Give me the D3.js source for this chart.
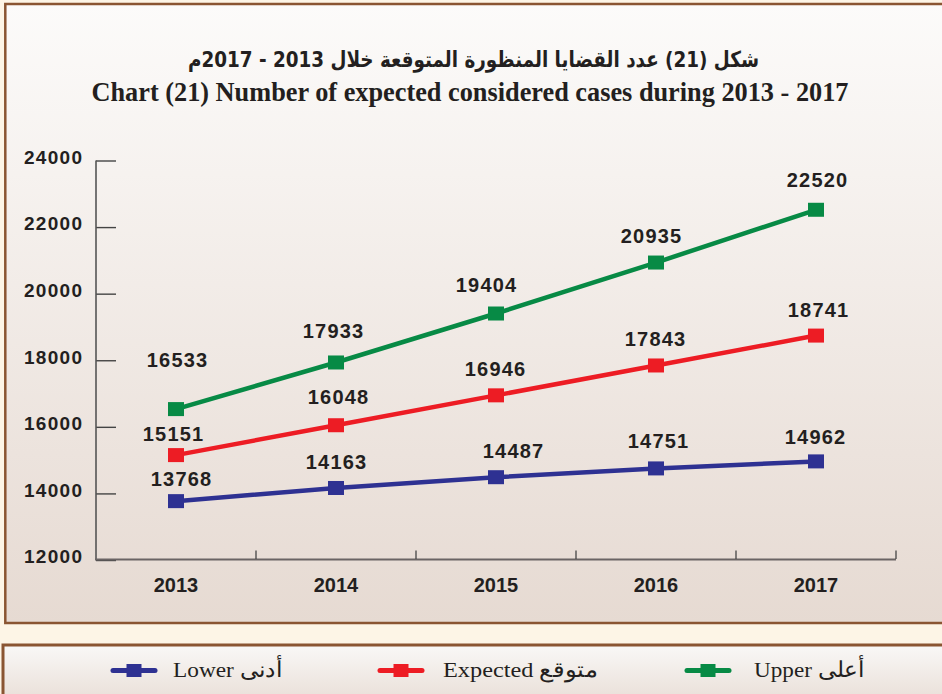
<!DOCTYPE html>
<html>
<head>
<meta charset="utf-8">
<script src="https://cdn.jsdelivr.net/npm/d3@7/dist/d3.min.js"></script>
<style>
  html, body { margin: 0; padding: 0; background: #fdf5e6; }
  svg { display: block; }
</style>
</head>
<body>
<svg id="chart" width="942" height="694"></svg>
<script>
// ---- data ----
const years = ["2013", "2014", "2015", "2016", "2017"];
const lowerValues = [13768, 14163, 14487, 14751, 14962];
const expectedValues = [15151, 16048, 16946, 17843, 18741];
const upperValues = [16533, 17933, 19404, 20935, 22520];
const yTickValues = [12000, 14000, 16000, 18000, 20000, 22000, 24000];
const titleArabic = "شكل (21) عدد القضايا المنظورة المتوقعة خلال 2013 - 2017م";
const titleEnglish = "Chart (21) Number of expected considered cases during 2013 - 2017";
const seriesNames = ["Lower أدنى", "Expected  متوقع", "Upper أعلى"];

// ---- layout (label nudges, px) ----
const labelLift = { lower: [15, 19, 19, 20, 17], expected: [14, 21, 19, 19, 19], upper: [42, 24, 22, 20, 23] };
const labelShift = { lower: [5, 0, 17, 2, -1], expected: [-3, 2, -1, -1, 2], upper: [1, -3, -10, -5, 1] };

const series = [
  { key: "lower", name: seriesNames[0], values: lowerValues, color: "#2e3192" },
  { key: "expected", name: seriesNames[1], values: expectedValues, color: "#ed1c24" },
  { key: "upper", name: seriesNames[2], values: upperValues, color: "#078a45" }
];

const svg = d3.select("#chart");
const defs = svg.append("defs");
const g1 = defs.append("linearGradient").attr("id", "panelGrad").attr("x1", 0).attr("y1", 0).attr("x2", 0).attr("y2", 1);
g1.append("stop").attr("offset", "0%").attr("stop-color", "#fcfbfa");
g1.append("stop").attr("offset", "100%").attr("stop-color", "#e6dad2");
const g2 = defs.append("linearGradient").attr("id", "legendGrad").attr("x1", 0).attr("y1", 0).attr("x2", 0).attr("y2", 1);
g2.append("stop").attr("offset", "0%").attr("stop-color", "#f9f8f7");
g2.append("stop").attr("offset", "100%").attr("stop-color", "#e8ddd5");

// background
svg.append("rect").attr("x", 0).attr("y", 0).attr("width", 942).attr("height", 694).attr("fill", "#fdf5e6");
// main panel
svg.append("rect").attr("x", 5.3).attr("y", 4).attr("width", 950).attr("height", 619)
  .attr("fill", "url(#panelGrad)").attr("stroke", "#8a5532").attr("stroke-width", 2.5);
// legend panel
svg.append("rect").attr("x", 3).attr("y", 645).attr("width", 950).attr("height", 60)
  .attr("fill", "url(#legendGrad)").attr("stroke", "#8a5532").attr("stroke-width", 3);

// titles
svg.append("text").attr("x", 473.5).attr("y", 67).attr("text-anchor", "middle")
  .attr("direction", "rtl")
  .attr("font-family", "'DejaVu Sans', sans-serif").attr("font-weight", "bold").attr("font-size", 22)
  .attr("fill", "#231f20")
  .attr("textLength", 571).attr("lengthAdjust", "spacingAndGlyphs")
  .text(titleArabic);
svg.append("text").attr("x", 470).attr("y", 100.5).attr("text-anchor", "middle")
  .attr("font-family", "'Liberation Serif', 'Times New Roman', serif").attr("font-weight", "bold").attr("font-size", 27.5)
  .attr("fill", "#231f20")
  .attr("textLength", 757).attr("lengthAdjust", "spacingAndGlyphs")
  .text(titleEnglish);

// scales
const x = d3.scaleBand().domain(years).range([96, 896]).padding(0);
const cx = d => x(d) + x.bandwidth() / 2;
const y = d3.scaleLinear().domain([12000, 24000]).range([560, 160.5]);

// y axis
const yAxis = d3.axisLeft(y).tickValues(yTickValues).tickSize(0).tickFormat(d3.format("d"));
const gy = svg.append("g").attr("transform", "translate(96,0)").call(yAxis);
gy.select(".domain").remove();
gy.selectAll(".tick text")
  .attr("x", -12.7).attr("dy", "0.15em")
  .attr("font-family", "'Liberation Sans', Arial, sans-serif").attr("font-weight", "bold")
  .attr("font-size", 19).attr("letter-spacing", 1.3).attr("fill", "#231f20");
gy.selectAll(".tick").append("line").attr("x1", 0).attr("x2", 20).attr("stroke", "#444").attr("stroke-width", 1.4);
svg.append("line").attr("x1", 96).attr("x2", 96).attr("y1", y(24000)).attr("y2", 560)
  .attr("stroke", "#555").attr("stroke-width", 1.6);

// x axis
const xAxis = d3.axisBottom(x).tickSize(0).tickPadding(0);
const gx = svg.append("g").attr("transform", "translate(0,560)").call(xAxis);
gx.select(".domain").remove();
gx.selectAll(".tick text").attr("y", 32).attr("dy", 0)
  .attr("font-family", "'Liberation Sans', Arial, sans-serif").attr("font-weight", "bold")
  .attr("font-size", 20).attr("fill", "#231f20");
svg.append("line").attr("x1", 95).attr("x2", 896).attr("y1", 559.5).attr("y2", 559.5)
  .attr("stroke", "#6a6464").attr("stroke-width", 2);
svg.selectAll(".xbound").data(years).enter().append("line")
  .attr("x1", d => x(d) + x.bandwidth()).attr("x2", d => x(d) + x.bandwidth())
  .attr("y1", 559).attr("y2", 550.5).attr("stroke", "#444").attr("stroke-width", 1.3);

// lines + markers + labels
const line = d3.line().x((d, i) => cx(years[i])).y(d => y(d));
series.forEach(s => {
  const g = svg.append("g");
  g.append("path").attr("d", line(s.values)).attr("fill", "none")
    .attr("stroke", s.color).attr("stroke-width", 4.5);
  g.selectAll("rect").data(s.values).enter().append("rect")
    .attr("x", (d, i) => cx(years[i]) - 8).attr("y", d => y(d) - 7)
    .attr("width", 16).attr("height", 14).attr("fill", s.color);
  g.selectAll("text").data(s.values).enter().append("text")
    .attr("x", (d, i) => cx(years[i]) + labelShift[s.key][i] + 0.6)
    .attr("y", (d, i) => y(d) - labelLift[s.key][i])
    .attr("text-anchor", "middle")
    .attr("font-family", "'Liberation Sans', Arial, sans-serif").attr("font-weight", "bold")
    .attr("font-size", 20).attr("letter-spacing", 1.2).attr("fill", "#231f20")
    .text(d => d);
});

// legend
const legendPos = [
  { mx: 134, tx: 173, tl: 109 },
  { mx: 401, tx: 443, tl: 155 },
  { mx: 708, tx: 754, tl: 110 }
];
series.forEach((s, i) => {
  const p = legendPos[i];
  const g = svg.append("g");
  g.append("line").attr("x1", p.mx - 21).attr("x2", p.mx + 21).attr("y1", 670.5).attr("y2", 670.5)
    .attr("stroke", s.color).attr("stroke-width", 5).attr("stroke-linecap", "round");
  g.append("rect").attr("x", p.mx - 7.5).attr("y", 664).attr("width", 15).attr("height", 13).attr("fill", s.color);
  g.append("text").attr("x", p.tx).attr("y", 677)
    .attr("font-family", "'Liberation Serif', 'Times New Roman', serif").attr("font-size", 22)
    .attr("fill", "#231f20").attr("direction", "ltr")
    .attr("textLength", p.tl).attr("lengthAdjust", "spacingAndGlyphs")
    .text(s.name);
});
</script>
</body>
</html>
